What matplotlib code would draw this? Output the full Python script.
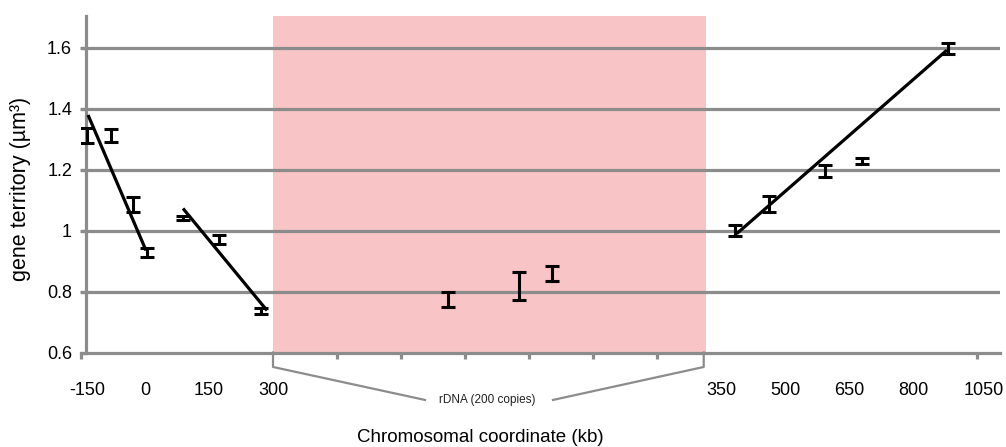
import matplotlib
matplotlib.use("Agg")
import matplotlib.pyplot as plt
from matplotlib.lines import Line2D
import numpy as np

plt.rcParams['font.family'] = ['Liberation Sans', 'DejaVu Sans']

# ---- data (x in axis position units: tick spacing = 1) ----
pos_x = [0.094, 0.469, 0.82, 1.03, 1.60, 2.156, 2.81,
         5.74, 6.84, 7.355,
         10.22, 10.755, 11.625, 12.21, 13.55]
volume = [1.312, 1.312, 1.086, 0.927, 1.042, 0.970, 0.737,
          0.775, 0.819, 0.859,
          1.000, 1.087, 1.195, 1.230, 1.597]
volume_err = [0.025, 0.022, 0.025, 0.015, 0.006, 0.015, 0.009,
              0.025, 0.045, 0.025,
              0.018, 0.027, 0.020, 0.010, 0.018]

fit1_x = [0.11, 1.016]
fit1_y = [1.38, 0.935]
fit2_x = [1.594, 2.906]
fit2_y = [1.073, 0.738]
fit3_x = [10.245, 13.53]
fit3_y = [0.99, 1.593]

rdna_span = [3.0, 9.766]

xtick_label_pos = [0.1, 1, 2, 3, 10, 11, 12, 13, 14.1]
xtick_labels = ['-150', '0', '150', '300', '350', '500', '650', '800', '1050']
xtick_marks = list(range(0, 15))
ytick_vals = [0.6, 0.8, 1.0, 1.2, 1.4, 1.6]
ytick_labels = ['0.6', '0.8', '1', '1.2', '1.4', '1.6']

GRAY = '#8c8c8c'
PINK = '#f8c4c6'

fig = plt.figure(figsize=(10.06, 4.47), dpi=100)
ax = fig.add_axes([81 / 1006, 1 - 352.5 / 447, (1000 - 81) / 1006, (352.5 - 16) / 447])

ax.set_xlim(0, (1000 - 81) / 64)
ax.set_ylim(0.6, 1.705)

ax.axvspan(rdna_span[0], rdna_span[1], color=PINK, lw=0, zorder=0)
for yv in ytick_vals[1:]:
    ax.axhline(yv, color=GRAY, lw=2.3, zorder=1)

ax.errorbar(pos_x, volume, yerr=volume_err, fmt='none', ecolor='black',
            elinewidth=2.2, capsize=5, capthick=2.2, zorder=3)
for fx, fy in [(fit1_x, fit1_y), (fit2_x, fit2_y), (fit3_x, fit3_y)]:
    ax.plot(fx, fy, color='black', lw=2.3, zorder=4, solid_capstyle='butt')

for s in ['top', 'right']:
    ax.spines[s].set_visible(False)
ax.spines['left'].set_position(('data', 5 / 64))
ax.spines['left'].set_color(GRAY)
ax.spines['left'].set_linewidth(2.3)
ax.spines['bottom'].set_color(GRAY)
ax.spines['bottom'].set_linewidth(2.3)
ax.spines['bottom'].set_zorder(2)

ax.set_yticks(ytick_vals)
ax.set_yticklabels(ytick_labels)
ax.tick_params(axis='y', direction='out', length=4, width=2.3, color=GRAY,
               labelsize=13, pad=6)

ax.set_xticks(xtick_label_pos)
ax.set_xticklabels(xtick_labels)
ax.set_xticks(xtick_marks, minor=True)
ax.tick_params(axis='x', which='major', length=0, labelsize=13, pad=21)
ax.tick_params(axis='x', which='minor', direction='out', length=4.3, width=2.3, color=GRAY)

# rDNA bracket
tr = ax.get_xaxis_transform()
lx = [rdna_span[0], rdna_span[0], 5.375]
ly = [0, -0.043, -0.141]
rx = [7.375, 9.73, 9.73]
ry = [-0.141, -0.043, 0]
ax.add_line(Line2D(lx, ly, transform=tr, color=GRAY, lw=1.6, clip_on=False))
ax.add_line(Line2D(rx, ry, transform=tr, color=GRAY, lw=1.6, clip_on=False))
ax.text(6.34, -0.141, 'rDNA (200 copies)', transform=tr, ha='center', va='center',
        fontsize=8.5, color='#222222')

fig.text(480 / 1006, 1 - 437 / 447, 'Chromosomal coordinate (kb)', ha='center', va='center',
         fontsize=13.5)
fig.text(21 / 1006, 1 - 189 / 447, 'gene territory (µm³)', ha='center', va='center',
         rotation=90, fontsize=15.5)

fig.savefig('out.png', dpi=100)
